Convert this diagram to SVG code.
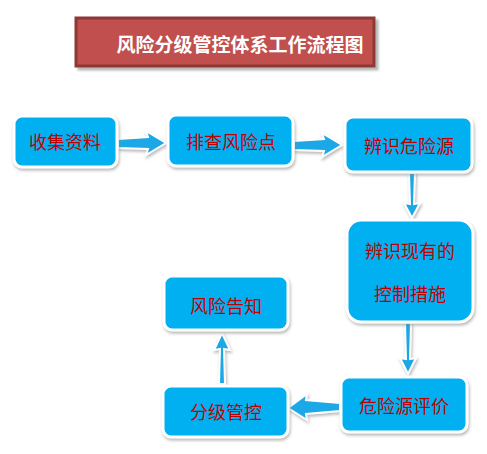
<svg xmlns="http://www.w3.org/2000/svg" width="487" height="454" viewBox="0 0 487 454">
<defs>
<filter id="sh" x="-20%" y="-20%" width="140%" height="150%">
<feDropShadow dx="1" dy="2" stdDeviation="1.5" flood-color="#888" flood-opacity="0.6"/>
</filter>
<filter id="sh2" x="-20%" y="-30%" width="140%" height="160%">
<feDropShadow dx="3" dy="3" stdDeviation="1" flood-color="#999" flood-opacity="0.7"/>
</filter>
<style>
.box{fill:#00B0F0;stroke:#fff;stroke-width:3;filter:url(#sh)}
.lbl{font-family:"Noto Sans CJK SC","Liberation Sans",sans-serif;font-size:18px;fill:#C00000;text-anchor:middle}
.arr{fill:#1AA8E6;stroke:#fff;stroke-width:2;stroke-linejoin:miter;filter:url(#sh)}
.title{font-family:"Noto Sans CJK SC","Liberation Sans",sans-serif;font-size:19px;font-weight:bold;fill:#fff;text-anchor:middle}
</style>
</defs>
<rect width="487" height="454" fill="#fff"/>
<g id="title">
<rect x="76" y="18" width="298" height="48" fill="#C0504D" stroke="#8C3836" stroke-width="3" filter="url(#sh2)"/>
<text class="title" x="240" y="52">风险分级管控体系工作流程图</text>
</g>
<g id="connectors">
<path class="arr" d="M118,139 L148,137 L146,131 L166,143 L146,155 L148,149 L118,148 Z"/>
<path class="arr" d="M294,141 L324,139 L322,133 L342,145 L322,157 L324,151 L294,150 Z"/>
<path class="arr" d="M409,173 L410,204 L404,203 L412,218 L420,203 L414,204 L415,173 Z"/>
<path class="arr" d="M405,323 L406,359 L400,358 L408,374 L416,358 L410,359 L411,323 Z"/>
<path class="arr" d="M340,403 L306,400 L307,394 L288,408 L307,420 L306,414 L340,411 Z"/>
<path class="arr" d="M219,384 L220,349 L214,350 L222,333 L230,350 L224,349 L225,384 Z"/>
</g>
<g id="n1">
<rect class="box" x="14" y="116" width="103" height="51" rx="8"/>
<text class="lbl" x="65" y="149">收集资料</text>
</g>
<g id="n2">
<rect class="box" x="168" y="115" width="125" height="51" rx="8"/>
<text class="lbl" x="231" y="149">排查风险点</text>
</g>
<g id="n3">
<rect class="box" x="345" y="117" width="127" height="55" rx="8"/>
<text class="lbl" x="409" y="153">辨识危险源</text>
</g>
<g id="n4">
<rect class="box" x="347" y="220" width="126" height="102" rx="14"/>
<text class="lbl" x="410" y="258">辨识现有的</text>
<text class="lbl" x="410" y="301">控制措施</text>
</g>
<g id="n5">
<rect class="box" x="341" y="377" width="126" height="55" rx="8"/>
<text class="lbl" x="404" y="413">危险源评价</text>
</g>
<g id="n6">
<rect class="box" x="163" y="386" width="125" height="51" rx="8"/>
<text class="lbl" x="226" y="419">分级管控</text>
</g>
<g id="n7">
<rect class="box" x="164" y="276" width="124" height="54" rx="8"/>
<text class="lbl" x="226" y="313">风险告知</text>
</g>
</svg>
